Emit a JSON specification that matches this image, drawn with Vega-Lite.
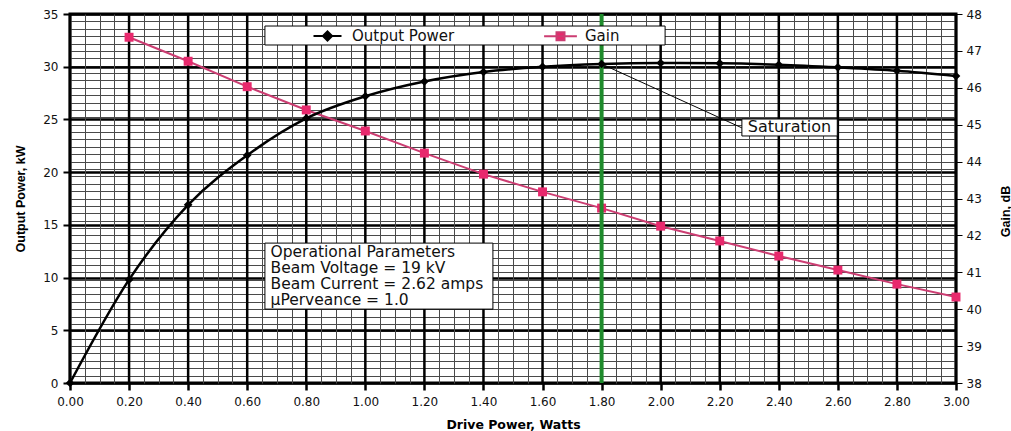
{
  "$schema": "https://vega.github.io/schema/vega-lite/v6.json",
  "width": 886,
  "height": 369,
  "autosize": {"type": "none"},
  "padding": {"left": 70, "top": 14, "right": 55, "bottom": 48},
  "background": "white",
  "data": {
    "values": [
      {"drive": 0.0, "power": 0.0, "gain": null},
      {"drive": 0.2, "power": 9.8, "gain": 47.37},
      {"drive": 0.4, "power": 16.9, "gain": 46.72},
      {"drive": 0.6, "power": 21.6, "gain": 46.03},
      {"drive": 0.8, "power": 25.1, "gain": 45.40},
      {"drive": 1.0, "power": 27.2, "gain": 44.83},
      {"drive": 1.2, "power": 28.6, "gain": 44.23},
      {"drive": 1.4, "power": 29.5, "gain": 43.66},
      {"drive": 1.6, "power": 30.0, "gain": 43.18},
      {"drive": 1.8, "power": 30.26, "gain": 42.74},
      {"drive": 2.0, "power": 30.35, "gain": 42.25},
      {"drive": 2.2, "power": 30.32, "gain": 41.85},
      {"drive": 2.4, "power": 30.19, "gain": 41.44},
      {"drive": 2.6, "power": 29.94, "gain": 41.06},
      {"drive": 2.8, "power": 29.62, "gain": 40.68},
      {"drive": 3.0, "power": 29.12, "gain": 40.33}
    ]
  },
  "config": {
    "view": {"stroke": "black", "strokeWidth": 3},
    "font": "DejaVu Sans",
    "axis": {"domain": false, "labelFont": "DejaVu Sans", "labelFontSize": 12, "labelColor": "#111", "tickColor": "black", "zindex": 0},
    "legend": {
      "orient": "none", "legendX": 195, "legendY": 12, "direction": "horizontal", "columns": 2,
      "padding": 2,
      "labelFont": "DejaVu Sans", "labelFontSize": 15, "labelColor": "#111",
      "symbolSize": 64, "symbolStrokeWidth": 2, "symbolOffset": 53, "labelOffset": 17, "columnPadding": 45,
      "symbolOpacity": 1
    }
  },
  "resolve": {"scale": {"y": "independent"}, "axis": {"y": "independent", "x": "independent"}},
  "layer": [
    {
      "mark": {"type": "rule", "color": "black", "strokeWidth": 2.5},
      "encoding": {
        "x": {
          "field": "drive", "type": "quantitative",
          "scale": {"domain": [0, 3], "nice": false, "zero": false},
          "axis": {
            "values": [0,0.2,0.4,0.6,0.8,1,1.2,1.4,1.6,1.8,2,2.2,2.4,2.6,2.8,3],
            "format": ".2f",
            "labelFlush": false, "labelOverlap": false, "labelBound": false,
            "grid": false,
            "tickSize": 7, "tickWidth": 2.5,
            "labelPadding": 6,
            "title": "Drive Power, Watts", "titleFont": "DejaVu Sans", "titleFontWeight": "bold", "titleFontSize": 12.5,
            "titleColor": "black", "titleY": 41, "titleBaseline": "middle"
          }
        }
      }
    },
    {
      "transform": [{"filter": "isValid(datum.gain)"}],
      "mark": {"type": "line", "color": "#cc3d72", "strokeWidth": 2},
      "encoding": {
        "x": {
          "field": "drive", "type": "quantitative",
          "axis": {
            "orient": "top",
            "values": [0.05,0.1,0.15,0.25,0.3,0.35,0.45,0.5,0.55,0.65,0.7,0.75,0.85,0.9,0.95,1.05,1.1,1.15,1.25,1.3,1.35,1.45,1.5,1.55,1.65,1.7,1.75,1.85,1.9,1.95,2.05,2.1,2.15,2.25,2.3,2.35,2.45,2.5,2.55,2.65,2.7,2.75,2.85,2.9,2.95],
            "labels": false, "domain": false, "grid": false, "title": null,
            "ticks": true, "tickSize": -369, "tickColor": "#4a4a4a", "tickWidth": 1
          }
        },
        "y": {
          "field": "gain", "type": "quantitative",
          "scale": {"domain": [38, 48], "nice": false, "zero": false},
          "axis": {
            "orient": "right",
            "values": [38,38.2,38.4,38.6,38.8,39,39.2,39.4,39.6,39.8,40,40.2,40.4,40.6,40.8,41,41.2,41.4,41.6,41.8,42,42.2,42.4,42.6,42.8,43,43.2,43.4,43.6,43.8,44,44.2,44.4,44.6,44.8,45,45.2,45.4,45.6,45.8,46,46.2,46.4,46.6,46.8,47,47.2,47.4,47.6,47.8,48],
            "labelExpr": "abs(datum.value-round(datum.value))<1e-6 ? format(datum.value,'d') : ''",
            "labelOverlap": false, "labelBound": false, "labelFlush": false,
            "grid": true, "gridColor": "#4a4a4a", "gridWidth": 1,
            "tickSize": 6, "tickWidth": 1,
            "tickOpacity": {"condition": {"test": "abs(datum.value-round(datum.value))<1e-6", "value": 1}, "value": 0},
            "labelPadding": 4,
            "title": "Gain, dB", "titleFont": "Liberation Sans", "titleFontWeight": "bold", "titleFontSize": 12.5,
            "titleColor": "black", "titleAngle": -90, "titleX": 49, "titleY": 197, "titleAlign": "center", "titleBaseline": "middle"
          }
        }
      }
    },
    {
      "mark": {"type": "line", "color": "black", "strokeWidth": 2.5, "interpolate": "monotone"},
      "encoding": {
        "x": {"field": "drive", "type": "quantitative", "axis": null},
        "y": {
          "field": "power", "type": "quantitative",
          "scale": {"domain": [0, 35], "nice": false},
          "axis": {
            "values": [0,5,10,15,20,25,30,35], "format": "d",
            "grid": true, "gridColor": "black", "gridWidth": 2.5,
            "tickSize": 7, "tickWidth": 2, "labelPadding": 5,
            "title": "Output Power, kW", "titleFont": "Liberation Sans", "titleFontWeight": "bold", "titleFontSize": 12.5,
            "titleColor": "black", "titleAngle": -90, "titleX": -50, "titleY": 184.5, "titleAlign": "center", "titleBaseline": "middle"
          }
        }
      }
    },
    {
      "transform": [{"filter": "isValid(datum.gain)"}],
      "mark": {"type": "point", "shape": "square", "filled": true, "color": "#e8296d", "size": 80, "opacity": 1},
      "encoding": {
        "x": {"field": "drive", "type": "quantitative", "axis": null},
        "y": {"field": "gain", "type": "quantitative", "scale": {"domain": [38, 48], "nice": false, "zero": false}, "axis": null}
      }
    },
    {
      "data": {"values": [{}]},
      "mark": {"type": "rule", "color": "#1f8b2c", "strokeWidth": 4},
      "encoding": {"x": {"datum": 1.8, "type": "quantitative", "axis": null}}
    },
    {
      "mark": {"type": "point", "shape": "diamond", "filled": true, "color": "black", "size": 75, "opacity": 1},
      "encoding": {
        "x": {"field": "drive", "type": "quantitative", "axis": null},
        "y": {"field": "power", "type": "quantitative", "scale": {"domain": [0, 35], "nice": false}, "axis": null}
      }
    },
    {
      "data": {"values": [{}]},
      "mark": {"type": "rule", "color": "black", "strokeWidth": 1},
      "encoding": {
        "x": {"datum": 1.8, "type": "quantitative", "axis": null},
        "x2": {"datum": 2.275},
        "y": {"datum": 30.26, "type": "quantitative", "scale": {"domain": [0, 35], "nice": false}, "axis": null},
        "y2": {"datum": 24.2}
      }
    },
    {
      "data": {"values": [{}]},
      "mark": {"type": "rect", "fill": "white", "stroke": "black", "strokeWidth": 1},
      "encoding": {
        "x": {"datum": 2.275, "type": "quantitative", "axis": null},
        "x2": {"datum": 2.598},
        "y": {"datum": 25.04, "type": "quantitative", "scale": {"domain": [0, 35], "nice": false}, "axis": null},
        "y2": {"datum": 23.43}
      }
    },
    {
      "data": {"values": [{}]},
      "mark": {"type": "text", "text": "Saturation", "font": "DejaVu Sans", "fontSize": 16, "color": "#111", "align": "center", "baseline": "middle"},
      "encoding": {
        "x": {"datum": 2.436, "type": "quantitative", "axis": null},
        "y": {"datum": 24.24, "type": "quantitative", "scale": {"domain": [0, 35], "nice": false}, "axis": null}
      }
    },
    {
      "data": {"values": [{}]},
      "mark": {"type": "rect", "fill": "white", "stroke": "black", "strokeWidth": 1},
      "encoding": {
        "x": {"datum": 0.66, "type": "quantitative", "axis": null},
        "x2": {"datum": 1.432},
        "y": {"datum": 13.27, "type": "quantitative", "scale": {"domain": [0, 35], "nice": false}, "axis": null},
        "y2": {"datum": 7.01}
      }
    },
    {
      "data": {"values": [{}]},
      "mark": {"type": "text", "text": "Operational Parameters\nBeam Voltage = 19 kV\nBeam Current = 2.62 amps\nμPerveance = 1.0", "lineBreak": "\n", "lineHeight": 16, "font": "DejaVu Sans", "fontSize": 15.5, "color": "#111", "align": "left", "baseline": "top"},
      "encoding": {
        "x": {"datum": 0.679, "type": "quantitative", "axis": null},
        "y": {"datum": 13.05, "type": "quantitative", "scale": {"domain": [0, 35], "nice": false}, "axis": null}
      }
    },
    {
      "data": {"values": [{}]},
      "mark": {"type": "rect", "fill": "white", "stroke": "black", "strokeWidth": 1},
      "encoding": {
        "x": {"datum": 0.66, "type": "quantitative", "axis": null},
        "x2": {"datum": 2.015},
        "y": {"datum": 33.86, "type": "quantitative", "scale": {"domain": [0, 35], "nice": false}, "axis": null},
        "y2": {"datum": 32.06}
      }
    },
    {
      "transform": [{"filter": "datum.drive < 0"}],
      "mark": {"type": "point", "filled": true},
      "encoding": {
        "x": {"field": "drive", "type": "quantitative", "axis": null},
        "y": {"field": "power", "type": "quantitative", "scale": {"domain": [0, 35], "nice": false}, "axis": null},
        "fill": {"field": "series", "type": "nominal", "scale": {"domain": ["Output Power", "Gain"], "range": ["black", "#e8296d"]}, "legend": {"title": null}},
        "stroke": {"field": "series", "type": "nominal", "scale": {"domain": ["Output Power", "Gain"], "range": ["black", "#cc3d72"]}, "legend": {"title": null}},
        "shape": {"field": "series", "type": "nominal", "scale": {"domain": ["Output Power", "Gain"], "range": ["M-3.5,0H3.5M-1.15,0L0,-1.15L1.15,0L0,1.15Z", "M-4.1,0H4.1M-1,-1H1V1H-1Z"]}, "legend": {"title": null}}
      }
    }
  ]
}
